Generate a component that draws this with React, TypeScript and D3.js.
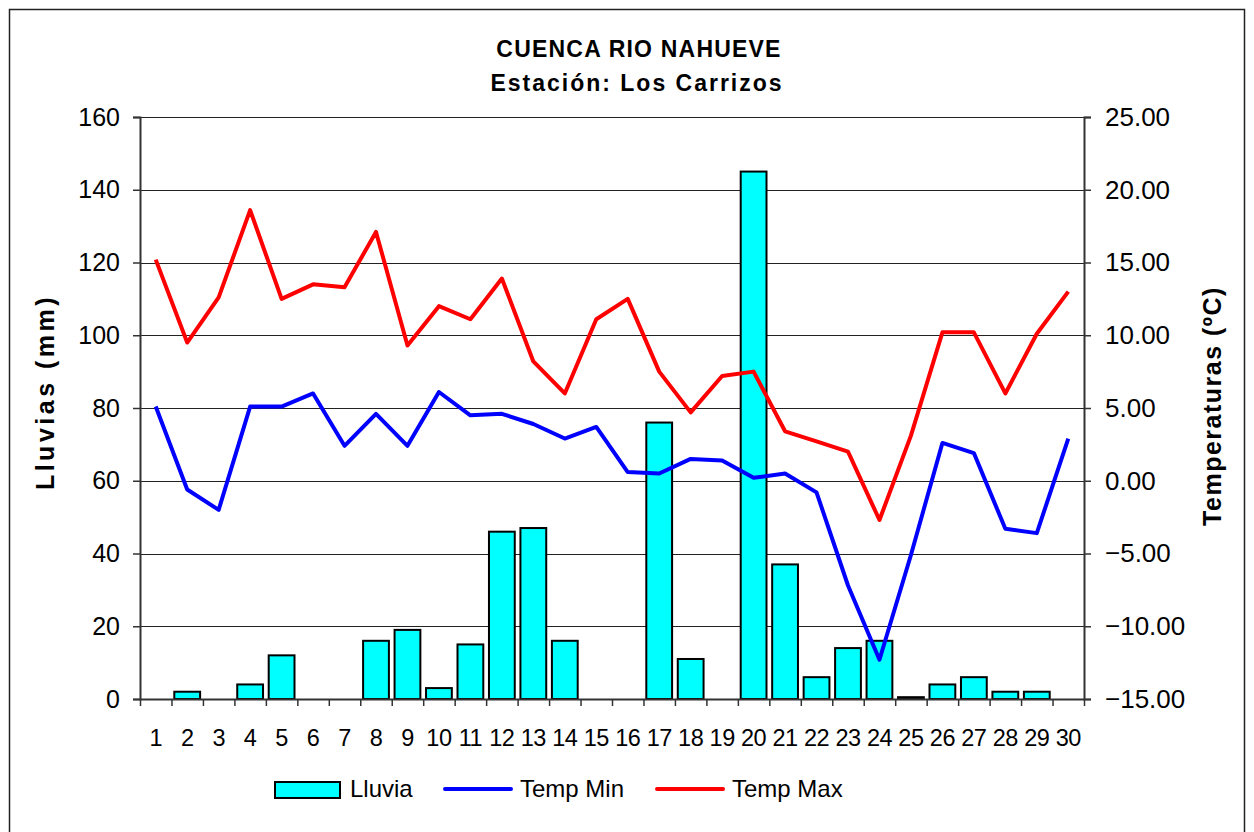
import React, { useEffect, useRef } from 'react';
import * as d3 from 'd3';

const days = d3.range(1, 31).map(String);
const lluvia = [0, 2, 0, 4, 12, 0, 0, 16, 19, 3, 15, 46, 47, 16, 0, 0, 76, 11, 0, 145, 37, 6, 14, 16, 0.5, 4, 6, 2, 2, 0];
const tempMin = [5.1, -0.6, -2.0, 5.1, 5.1, 6.0, 2.4, 4.6, 2.4, 6.1, 4.5, 4.6, 3.9, 2.9, 3.7, 0.6, 0.5, 1.5, 1.4, 0.2, 0.5, -0.8, -7.2, -12.3, -5.1, 2.6, 1.9, -3.3, -3.6, 2.9];
const tempMax = [15.2, 9.5, 12.6, 18.6, 12.5, 13.5, 13.3, 17.1, 9.3, 12.0, 11.1, 13.9, 8.2, 6.0, 11.1, 12.5, 7.5, 4.7, 7.2, 7.5, 3.4, 2.7, 2.0, -2.7, 3.1, 10.2, 10.2, 6.0, 10.1, 13.0];
const leftTicks = [0, 20, 40, 60, 80, 100, 120, 140, 160];
const rightTicks = [-15, -10, -5, 0, 5, 10, 15, 20, 25];

const W = 1254;
const H = 832;
const left = 140;
const right = 1084;
const top = 117;
const bottom = 699;
const font = '"Liberation Sans", Arial, sans-serif';

export default function App() {
  const ref = useRef<SVGSVGElement>(null);

  useEffect(() => {
    const svg = d3.select(ref.current);
    svg.selectAll('*').remove();

    const x = d3.scaleBand().domain(days).range([left, right]).paddingInner(0.18).paddingOuter(0.09);
    const yL = d3.scaleLinear().domain([0, 160]).range([bottom, top]);
    const yR = d3.scaleLinear().domain([-15, 25]).range([bottom, top]);

    svg.append('rect')
      .attr('x', 9.5).attr('y', 9.5).attr('width', 1235).attr('height', 840)
      .attr('fill', 'white').attr('stroke', '#222').attr('stroke-width', 1.5);

    // gridlines
    svg.append('g').selectAll('line').data(leftTicks.slice(1)).enter().append('line')
      .attr('x1', left).attr('x2', right)
      .attr('y1', (d) => Math.round(yL(d)) + 0.5).attr('y2', (d) => Math.round(yL(d)) + 0.5)
      .attr('stroke', '#222').attr('stroke-width', 1);

    // bars
    svg.append('g').selectAll('rect').data(lluvia).enter().append('rect')
      .attr('x', (d, i) => x(days[i]) as number)
      .attr('width', x.bandwidth())
      .attr('y', (d) => yL(d))
      .attr('height', (d) => bottom - yL(d))
      .attr('fill', '#00FFFF').attr('stroke', '#000').attr('stroke-width', 2)
      .style('display', (d) => (d > 0 ? null : 'none'));

    const cx = (i: number) => (x(days[i]) as number) + x.bandwidth() / 2;
    const line = d3.line<number>().x((d, i) => cx(i)).y((d) => yR(d));

    svg.append('path').datum(tempMin).attr('d', line)
      .attr('fill', 'none').attr('stroke', '#0000FF').attr('stroke-width', 4).attr('stroke-linejoin', 'round');
    svg.append('path').datum(tempMax).attr('d', line)
      .attr('fill', 'none').attr('stroke', '#FF0000').attr('stroke-width', 4).attr('stroke-linejoin', 'round');

    // axes
    const axL = d3.axisLeft(yL).tickValues(leftTicks).tickSize(7).tickPadding(13).tickFormat(d3.format('d'));
    const gL = svg.append('g').attr('transform', `translate(${left},0)`).call(axL);
    const axR = d3.axisRight(yR).tickValues(rightTicks).tickSize(7).tickPadding(14).tickFormat(d3.format('.2f'));
    const gR = svg.append('g').attr('transform', `translate(${right},0)`).call(axR);

    const xLin = d3.scaleLinear().domain([0, 30]).range([left, right]);
    const axB = d3.axisBottom(xLin).tickValues(d3.range(0, 31)).tickSize(7).tickFormat(() => '');
    const gB = svg.append('g').attr('transform', `translate(0,${bottom})`).call(axB);

    [gL, gR, gB].forEach((g) => {
      g.select('.domain').attr('stroke', '#333').attr('stroke-width', 2);
      g.selectAll('.tick line').attr('stroke', '#333').attr('stroke-width', 1.5);
      g.selectAll('text').attr('font-family', font).attr('font-size', 25).attr('fill', '#000');
    });
    gR.selectAll('text').attr('font-size', 26);
    gB.select('.domain').attr('d', `M${left},0.5H${right}`);

    svg.append('g').selectAll('text').data(days).enter().append('text')
      .attr('x', (d) => (x(d) as number) + x.bandwidth() / 2)
      .attr('y', 746)
      .attr('text-anchor', 'middle')
      .attr('font-family', font).attr('font-size', 23.5)
      .attr('letter-spacing', -0.5)
      .text((d) => d);

    // titles
    const t = svg.append('g').attr('font-family', font).attr('font-weight', 'bold').attr('font-size', 23).attr('text-anchor', 'middle');
    t.append('text').attr('x', 639).attr('y', 57).attr('letter-spacing', 1.2).text('CUENCA RIO NAHUEVE');
    t.append('text').attr('x', 637).attr('y', 91).attr('letter-spacing', 2).text('Estación: Los Carrizos');

    svg.append('text')
      .attr('transform', `translate(54,392) rotate(-90)`)
      .attr('text-anchor', 'middle')
      .attr('font-family', font).attr('font-weight', 'bold').attr('font-size', 25)
      .attr('letter-spacing', 3.5)
      .text('Lluvias (mm)');
    svg.append('text')
      .attr('transform', `translate(1221,${(top + bottom) / 2 - 2}) rotate(-90)`)
      .attr('text-anchor', 'middle')
      .attr('font-family', font).attr('font-weight', 'bold').attr('font-size', 25)
      .attr('letter-spacing', 1.5)
      .text('Temperaturas (ºC)');

    // legend
    const lg = svg.append('g').attr('font-family', font).attr('font-size', 24);
    lg.append('rect').attr('x', 275).attr('y', 782).attr('width', 65).attr('height', 16)
      .attr('fill', '#00FFFF').attr('stroke', '#000').attr('stroke-width', 2);
    lg.append('text').attr('x', 350).attr('y', 797).text('Lluvia');
    lg.append('line').attr('x1', 445).attr('x2', 511).attr('y1', 789).attr('y2', 789)
      .attr('stroke', '#0000FF').attr('stroke-width', 4).attr('stroke-linecap', 'round');
    lg.append('text').attr('x', 520).attr('y', 797).text('Temp Min');
    lg.append('line').attr('x1', 657).attr('x2', 723).attr('y1', 789).attr('y2', 789)
      .attr('stroke', '#FF0000').attr('stroke-width', 4).attr('stroke-linecap', 'round');
    lg.append('text').attr('x', 732).attr('y', 797).text('Temp Max');
  }, []);

  return (
    <svg ref={ref} width={W} height={H} style={{ position: 'absolute', left: 0, top: 0, background: 'white' }} />
  );
}
